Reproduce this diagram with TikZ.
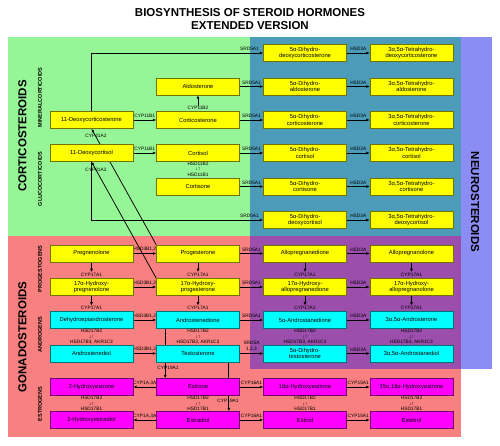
\documentclass[tikz,border=0pt]{standalone}
\usepackage{fontspec}
\setmainfont{Liberation Sans}
\usetikzlibrary{arrows.meta, positioning, calc}
\definecolor{cortgreen}{RGB}{150,245,150}
\definecolor{neuroblue}{RGB}{75,155,185}
\definecolor{neurolav}{RGB}{140,140,245}
\definecolor{gonadred}{RGB}{248,128,128}
\definecolor{neurogonad}{RGB}{155,78,172}
\definecolor{steryellow}{RGB}{255,255,0}
\definecolor{stercyan}{RGB}{0,255,255}
\definecolor{stermag}{RGB}{255,0,255}
\pgfdeclarelayer{regions}
\pgfdeclarelayer{lines}
\pgfsetlayers{regions,lines,main}
\tikzset{
  mol/.style={line width=0.6pt, minimum width=83pt, minimum height=17pt,
              inner sep=0pt, font=\fontsize{5.8}{6.8}\selectfont, align=center},
  pro/.style={mol, fill=steryellow, draw=steryellow!45!black},
  androbox/.style={mol, fill=stercyan, draw=stercyan!45!black},
  estrobox/.style={mol, fill=stermag, draw=stermag!45!black},
  enz/.style={font=\fontsize{4.8}{5.6}\selectfont, inner sep=0.5pt, align=center},
  flow/.style={-{Latex[length=3.4pt,width=3pt]}, line width=0.75pt},
  classlabel/.style={font=\bfseries\fontsize{11.5}{13}\selectfont},
  sublabel/.style={font=\bfseries\fontsize{5.5}{6}\selectfont}
}

\begin{document}
\begin{tikzpicture}[x=1pt, y=-1pt]
  \useasboundingbox (0,0) rectangle (500,446);
  % coloured fields
  \begin{pgfonlayer}{regions}
    \fill[cortgreen]  (8,37)   rectangle (250,236);
    \fill[neuroblue]  (250,37) rectangle (461,236);
    \fill[neurolav]   (461,37) rectangle (492,369);
    \fill[gonadred]   (8,236)  rectangle (461,437);
    \fill[neurogonad] (250,236) rectangle (461,369);
  \end{pgfonlayer}

  \node[classlabel, align=center] (title) at (250,19.5)
    {BIOSYNTHESIS OF STEROID HORMONES\\EXTENDED VERSION};
  \node[classlabel, rotate=90]  (cortico) at (22.5,136) {CORTICOSTEROIDS};
  \node[classlabel, rotate=90]  (gonado)  at (22.5,337) {GONADOSTEROIDS};
  \node[classlabel, rotate=-90] (neuro)   at (475,202)  {NEUROSTEROIDS};
  \node[sublabel, rotate=90] (mineral) at (40,97.5) {MINERALCORTICOIDS};
  \node[sublabel, rotate=90] (gluco)   at (40,179)  {GLUCOCORTICOIDS};
  \node[sublabel, rotate=90] (gesta)   at (40,269)  {PROGESTOGENS};
  \node[sublabel, rotate=90] (androlab) at (40,335) {ANDROGENS};
  \node[sublabel, rotate=90] (estrolab) at (40,404) {ESTROGENS};

  % corticosteroids
  \node[pro] (dhdoc)  at (305,53)     {5α-Dihydro-\\deoxycorticosterone};
  \node[pro] (thdoc)  at (411.5,53)   {3α,5α-Tetrahydro-\\deoxycorticosterone};
  \node[pro] (aldo)   at (198,86.5)   {Aldosterone};
  \node[pro] (dhaldo) at (305,86.5)   {5α-Dihydro-\\aldosterone};
  \node[pro] (thaldo) at (411.5,86.5) {3α,5α-Tetrahydro-\\aldosterone};
  \node[pro] (doc)    at (91.5,120)   {11-Deoxycorticosterone};
  \node[pro] (cst)    at (198,120)    {Corticosterone};
  \node[pro] (dhcst)  at (305,120)    {5α-Dihydro-\\corticosterone};
  \node[pro] (thcst)  at (411.5,120)  {3α,5α-Tetrahydro-\\corticosterone};
  \node[pro] (dcl)    at (91.5,153)   {11-Deoxycortisol};
  \node[pro] (csl)    at (198,153)    {Cortisol};
  \node[pro] (dhcsl)  at (305,153)    {5α-Dihydro-\\cortisol};
  \node[pro] (thcsl)  at (411.5,153)  {3α,5α-Tetrahydro-\\cortisol};
  \node[pro] (csn)    at (198,186.5)  {Cortisone};
  \node[pro] (dhcsn)  at (305,186.5)  {5α-Dihydro-\\cortisone};
  \node[pro] (thcsn)  at (411.5,186.5) {3α,5α-Tetrahydro-\\cortisone};
  \node[pro] (dhdcl)  at (305,220)    {5α-Dihydro-\\deoxycortisol};
  \node[pro] (thdcl)  at (411.5,220)  {3α,5α-Tetrahydro-\\deoxycortisol};

  % gonadosteroids
  \node[pro] (preg)   at (91.5,253.5) {Pregnenolone};
  \node[pro] (prog)   at (198,253.5)  {Progesterone};
  \node[pro] (apd)    at (305,253.5)  {Allopregnanedione};
  \node[pro] (apl)    at (411.5,253.5) {Allopregnanolone};
  \node[pro] (ohpreg) at (91.5,287)   {17α-Hydroxy-\\pregnenolone};
  \node[pro] (ohprog) at (198,287)    {17α-Hydroxy-\\progesterone};
  \node[pro] (ohapd)  at (305,287)    {17α-Hydroxy-\\allopregnanedione};
  \node[pro] (ohapl)  at (411.5,287)  {17α-Hydroxy-\\allopregnanolone};
  \node[androbox] (dhea)    at (91.5,320)  {Dehydroepiandrosterone};
  \node[androbox] (adione)  at (198,320)   {Androstenedione};
  \node[androbox] (aadione) at (305,320)   {5α-Androstanedione};
  \node[androbox] (adst)    at (411.5,320) {3α,5α-Androsterone};
  \node[androbox] (adiol)   at (91.5,353.5) {Androstenediol};
  \node[androbox] (testo)   at (198,353.5)  {Testosterone};
  \node[androbox] (dht)     at (305,353.5)  {5α-Dihydro-\\testosterone};
  \node[androbox] (aadiol)  at (411.5,353.5) {3α,5α-Androstanediol};
  \node[estrobox] (hestrone)   at (91.5,387)  {2-Hydroxyestrone};
  \node[estrobox] (estrone)    at (198,387)   {Estrone};
  \node[estrobox] (estrone16)  at (305,387)   {16α-Hydroxyestrone};
  \node[estrobox] (estrone15)  at (411.5,387) {15α,16α-Hydroxyestrone};
  \node[estrobox] (hestradiol) at (91.5,420)  {2-Hydroxyestradiol};
  \node[estrobox] (estradiol)  at (198,420)   {Estradiol};
  \node[estrobox] (estriol)    at (305,420)   {Estriol};
  \node[estrobox] (estetrol)   at (411.5,420) {Estetrol};

  % free-standing enzyme labels
  \node[enz] (t1) at (96,136)  {CYP21A2};
  \node[enz] (t2) at (96,170)  {CYP21A2};
  \node[enz] (b3) at (198,108) {CYP11B2};
  \node[enz] (d1) at (198,169) {HSD11B2\\↓↑\\HSD11B1};
  \node[enz] (k1) at (91.5,274.5)  {CYP17A1};
  \node[enz] (k2) at (91.5,308)    {CYP17A1};
  \node[enz] (k3) at (198,274.5)   {CYP17A1};
  \node[enz] (k4) at (198,308)     {CYP17A1};
  \node[enz] (k5) at (305,274.5)   {CYP17A1};
  \node[enz] (k6) at (305,308)     {CYP17A1};
  \node[enz] (k7) at (411.5,274.5) {CYP17A1};
  \node[enz] (k8) at (411.5,308)   {CYP17A1};
  \node[enz] (m1) at (91.5,337)  {HSD17B2\\↓↑\\HSD17B3, AKR1C3};
  \node[enz] (m2) at (198,337)   {HSD17B2\\↓↑\\HSD17B3, AKR1C3};
  \node[enz] (m3) at (305,337)   {HSD17B2\\↓↑\\HSD17B3, AKR1C3};
  \node[enz] (m4) at (411.5,337) {HSD17B2\\↓↑\\HSD17B3, AKR1C3};
  \node[enz] (a1) at (168,367.5) {CYP19A1};
  \node[enz] (a2) at (228,401)   {CYP19A1};
  \node[enz] (n1) at (91.5,403.5)  {HSD17B2\\↓↑\\HSD17B1};
  \node[enz] (n2) at (198,403.5)   {HSD17B2\\↓↑\\HSD17B1};
  \node[enz] (n3) at (305,403.5)   {HSD17B2\\↓↑\\HSD17B1};
  \node[enz] (n4) at (411.5,403.5) {HSD17B2\\↓↑\\HSD17B1};

  \begin{pgfonlayer}{lines}
    % corticosteroid reactions
    \draw[flow] (doc.north) |- (dhdoc.west) node[enz, pos=0.96, above=1.5pt] (s0) {SRD5A1};
    \draw[flow] (doc) -- (cst) node[enz, midway, above=1.5pt] (b1) {CYP11B1};
    \draw[flow] (dcl) -- (csl) node[enz, midway, above=1.5pt] (b2) {CYP11B1};
    \draw[flow] (b3) -- (aldo);
    \draw[flow] (aldo) -- (dhaldo) node[enz, midway, above=1.5pt] (s1) {SRD5A1};
    \draw[flow] (cst) -- (dhcst) node[enz, midway, above=1.5pt] (s2) {SRD5A1};
    \draw[flow] (csl) -- (dhcsl) node[enz, midway, above=1.5pt] (s3) {SRD5A1};
    \draw[flow] (csn) -- (dhcsn) node[enz, midway, above=1.5pt] (s4) {SRD5A1};
    \draw[flow] (dcl.south) |- (dhdcl.west) node[enz, pos=0.96, above=1.5pt] (s5) {SRD5A1};
    \draw[flow] (dhdoc) -- (thdoc) node[enz, midway, above=1.5pt] (h0) {HSD3A};
    \draw[flow] (dhaldo) -- (thaldo) node[enz, midway, above=1.5pt] (h1) {HSD3A};
    \draw[flow] (dhcst) -- (thcst) node[enz, midway, above=1.5pt] (h2) {HSD3A};
    \draw[flow] (dhcsl) -- (thcsl) node[enz, midway, above=1.5pt] (h3) {HSD3A};
    \draw[flow] (dhcsn) -- (thcsn) node[enz, midway, above=1.5pt] (h4) {HSD3A};
    \draw[flow] (dhdcl) -- (thdcl) node[enz, midway, above=1.5pt] (h5) {HSD3A};
    \draw[flow] (prog.north west) -- (doc.south);
    \draw[flow] (ohprog.north west) -- (dcl.south);

    % gonadosteroid reactions
    \draw[flow] (preg) -- (prog) node[enz, midway, above=1.5pt] (g1) {HSD3B1,2};
    \draw[flow] (ohpreg) -- (ohprog) node[enz, midway, above=1.5pt] (g2) {HSD3B1,2};
    \draw[flow] (dhea) -- (adione) node[enz, midway, above=1.5pt] (g3) {HSD3B1,2};
    \draw[flow] (adiol) -- (testo) node[enz, midway, above=1.5pt] (g4) {HSD3B1,2};
    \draw[flow] (prog) -- (apd) node[enz, midway, above=1.5pt] (s6) {SRD5A1};
    \draw[flow] (ohprog) -- (ohapd) node[enz, midway, above=1.5pt] (s7) {SRD5A1};
    \draw[flow] (adione) -- (aadione) node[enz, midway, above=1.5pt] (s8) {SRD5A1};
    \draw[flow] (testo) -- (dht) node[enz, midway, above=1.5pt] (s9) {SRD5A\\1,2,3};
    \draw[flow] (apd) -- (apl) node[enz, midway, above=1.5pt] (h6) {HSD3A};
    \draw[flow] (ohapd) -- (ohapl) node[enz, midway, above=1.5pt] (h7) {HSD3A};
    \draw[flow] (aadione) -- (adst) node[enz, midway, above=1.5pt] (h8) {HSD3A};
    \draw[flow] (dht) -- (aadiol) node[enz, midway, above=1.5pt] (h9) {HSD3A};
    \draw[flow] (preg) -- (k1);
    \draw[flow] (ohpreg) -- (k2);
    \draw[flow] (prog) -- (k3);
    \draw[flow] (ohprog) -- (k4);
    \draw[flow] (apd) -- (k5);
    \draw[flow] (ohapd) -- (k6);
    \draw[flow] (apl) -- (k7);
    \draw[flow] (ohapl) -- (k8);
    \draw[flow] ([xshift=9pt]adione.south west) -- ([xshift=9pt]estrone.north west);
    \draw[flow] ([xshift=-11pt]testo.south east) -- ([xshift=-11pt]estradiol.north east);
    \draw[flow] (estrone) -- (hestrone) node[enz, midway, above=1.5pt] (p1) {CYP1A,3A};
    \draw[flow] (estradiol) -- (hestradiol) node[enz, midway, above=1.5pt] (p2) {CYP1A,3A};
    \draw[flow] (estrone) -- (estrone16) node[enz, midway, above=1.5pt] (q1) {CYP16A1};
    \draw[flow] (estradiol) -- (estriol) node[enz, midway, above=1.5pt] (q2) {CYP16A1};
    \draw[flow] (estrone16) -- (estrone15) node[enz, midway, above=1.5pt] (r1) {CYP15A1};
    \draw[flow] (estriol) -- (estetrol) node[enz, midway, above=1.5pt] (r2) {CYP15A1};
  \end{pgfonlayer}
\end{tikzpicture}
\end{document}
